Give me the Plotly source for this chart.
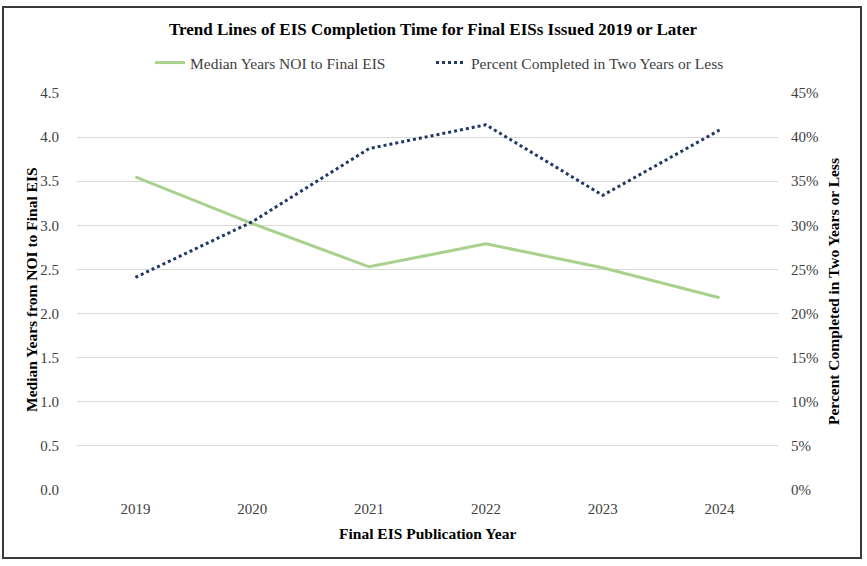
import plotly.graph_objects as go

years = ["2019", "2020", "2021", "2022", "2023", "2024"]
median_years = [3.55, 3.02, 2.53, 2.79, 2.52, 2.18]
pct_two_years = [0.241, 0.304, 0.387, 0.414, 0.334, 0.408]

FONT = "Liberation Serif, Times New Roman, serif"
TICK_COLOR = "#404040"

W, H = 867, 566
L, R, T, B = 77, 89, 93, 76
pw, ph = W - L - R, H - T - B


def px(x):
    return (x - L) / pw


def py(y):
    return (H - B - y) / ph


fig = go.Figure()
fig.add_trace(go.Scatter(
    x=years, y=median_years, mode="lines", name="Median Years NOI to Final EIS",
    line=dict(color="#a9d18e", width=3), yaxis="y", legend="legend"))
fig.add_trace(go.Scatter(
    x=years, y=pct_two_years, mode="lines", name="Percent Completed in Two Years or Less",
    line=dict(color="#1f3864", width=3, dash="dot"), yaxis="y2", legend="legend2"))

legend_common = dict(orientation="h", xref="paper", xanchor="left", yref="paper",
                     yanchor="middle", y=py(63), bgcolor="rgba(0,0,0,0)",
                     font=dict(family=FONT, size=15.5, color=TICK_COLOR))

fig.update_layout(
    width=W, height=H,
    margin=dict(l=L, r=R, t=T, b=B, autoexpand=False),
    paper_bgcolor="white", plot_bgcolor="white",
    font=dict(family=FONT, size=15, color=TICK_COLOR),
    showlegend=True,
    title=dict(text="<b>Trend Lines of EIS Completion Time for Final EISs Issued 2019 or Later</b>",
               x=433 / W, xref="container", xanchor="center",
               y=1 - 29 / H, yref="container", yanchor="middle",
               font=dict(family=FONT, size=17, color="black")),
    legend=dict(x=px(150), **legend_common),
    legend2=dict(x=px(431), **legend_common),
    xaxis=dict(type="category", range=[-0.5, 5.5], showgrid=False, showline=False, zeroline=False,
               ticks="outside", ticklen=5, tickcolor="rgba(0,0,0,0)", automargin=False,
               tickfont=dict(family=FONT, size=15, color=TICK_COLOR)),
    yaxis=dict(range=[0, 4.5], dtick=0.5, tickformat=".1f", showgrid=True,
               gridcolor="#d9d9d9", gridwidth=1, zeroline=False, showline=False,
               ticks="outside", ticklen=14, tickcolor="rgba(0,0,0,0)", automargin=False,
               tickfont=dict(family=FONT, size=15, color=TICK_COLOR)),
    yaxis2=dict(range=[0, 0.45], dtick=0.05, tickformat=".0%", overlaying="y", side="right",
                showgrid=False, zeroline=False, showline=False, automargin=False,
                ticks="outside", ticklen=9, tickcolor="rgba(0,0,0,0)",
                tickfont=dict(family=FONT, size=15, color=TICK_COLOR)),
    annotations=[
        dict(text="<b>Final EIS Publication Year</b>", xref="paper", yref="paper",
             x=px(427), y=py(533), xanchor="center", yanchor="middle", showarrow=False,
             font=dict(family=FONT, size=15.5, color="black")),
        dict(text="<b>Median Years from NOI to Final EIS</b>", xref="paper", yref="paper",
             x=px(31), y=py(290), xanchor="center", yanchor="middle", showarrow=False,
             textangle=-90, font=dict(family=FONT, size=15.5, color="black")),
        dict(text="<b>Percent Completed in Two Years or Less</b>", xref="paper", yref="paper",
             x=px(833), y=py(291), xanchor="center", yanchor="middle", showarrow=False,
             textangle=-90, font=dict(family=FONT, size=15.5, color="black")),
    ],
    shapes=[dict(type="rect", xref="paper", yref="paper",
                 x0=px(3), x1=px(861), y0=py(558), y1=py(7),
                 line=dict(color="#3a3a3a", width=2), fillcolor="rgba(0,0,0,0)", layer="above")],
)

fig.write_html("out.html", config={"displayModeBar": False},
               post_script="document.body.style.margin='0';")
